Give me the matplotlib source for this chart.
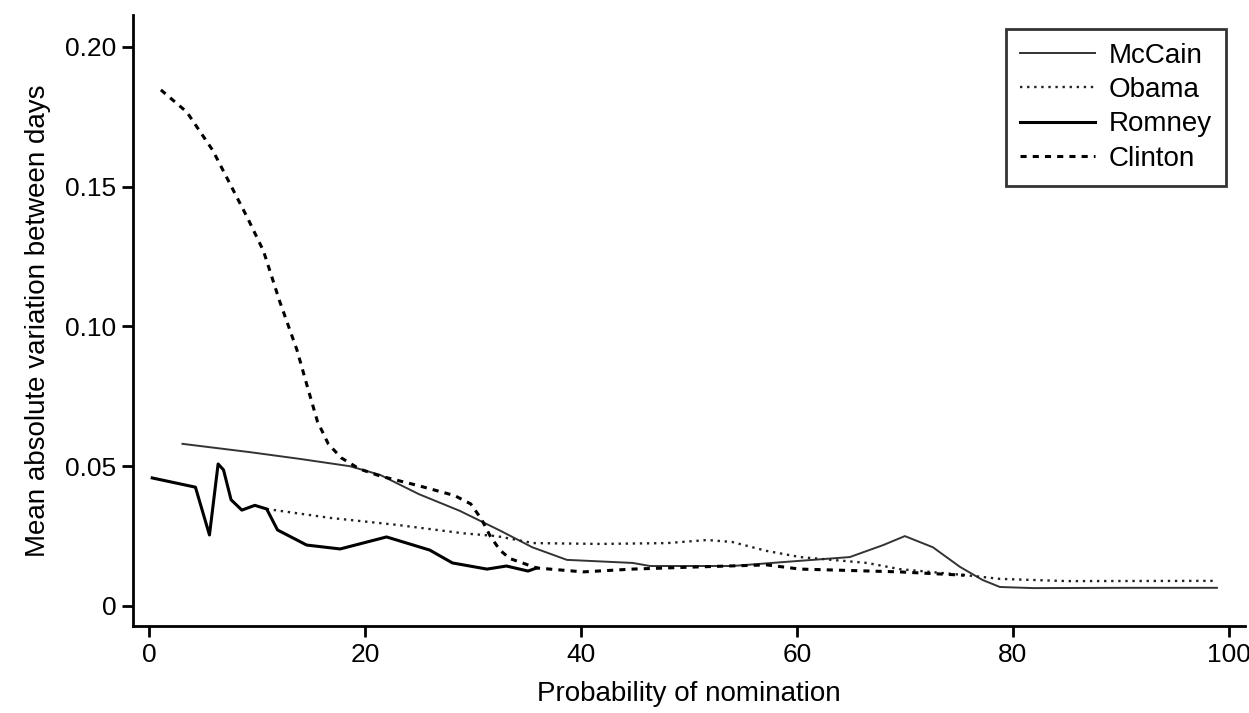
import matplotlib
matplotlib.use("Agg")
import matplotlib.pyplot as plt

plt.rcParams['font.family'] = ['Liberation Sans', 'DejaVu Sans']

mccain_x = [3.1, 9.4, 14.0, 18.6, 21.4, 25.0, 28.8, 32.5, 35.5, 38.7, 44.8, 46.4, 54.0, 58.7, 64.9, 68.0, 70.0, 72.6, 75.1, 77.2, 78.8, 81.9, 90.0, 98.9]
mccain_y = [0.058, 0.055, 0.0526, 0.050, 0.0469, 0.040, 0.034, 0.027, 0.021, 0.0165, 0.0154, 0.0143, 0.0143, 0.0157, 0.0175, 0.0218, 0.025, 0.021, 0.014, 0.0093, 0.0068, 0.0064, 0.0065, 0.0065]

obama_x = [10.9, 16.8, 23.0, 29.1, 32.2, 35.6, 41.8, 48.0, 51.7, 54.0, 57.2, 60.3, 66.5, 69.5, 75.7, 78.8, 85.0, 98.7]
obama_y = [0.0347, 0.0315, 0.029, 0.026, 0.025, 0.0225, 0.0222, 0.0225, 0.0236, 0.0229, 0.0197, 0.0175, 0.0154, 0.0132, 0.011, 0.0097, 0.0089, 0.009]

romney_x = [0.3, 4.3, 5.6, 6.4, 6.9, 7.6, 8.6, 9.8, 10.9, 11.9, 14.6, 17.7, 19.8, 22.0, 26.0, 28.1, 31.3, 33.1, 35.1, 35.9]
romney_y = [0.0458, 0.0425, 0.0254, 0.0508, 0.0487, 0.038, 0.0343, 0.036, 0.0347, 0.0272, 0.0218, 0.0204, 0.0225, 0.0247, 0.020, 0.0154, 0.0132, 0.0143, 0.0125, 0.0136]

clinton_x = [1.1, 3.5, 5.9, 7.5, 9.1, 10.6, 12.1, 13.7, 14.7, 15.6, 16.6, 17.8, 19.5, 21.4, 25.0, 28.3, 29.8, 30.8, 31.6, 32.5, 33.4, 35.9, 40.2, 44.8, 51.0, 57.2, 60.3, 69.5, 75.5]
clinton_y = [0.1846, 0.1767, 0.163, 0.151, 0.139, 0.127, 0.109, 0.0916, 0.0780, 0.0660, 0.0580, 0.0530, 0.0490, 0.0465, 0.0430, 0.0395, 0.0365, 0.031, 0.025, 0.020, 0.0170, 0.0136, 0.0122, 0.0132, 0.014, 0.0147, 0.0132, 0.0122, 0.011]

x_ticks = [0, 20, 40, 60, 80, 100]
y_ticks = [0, 0.05, 0.10, 0.15, 0.20]
y_ticklabels = ['0', '0.05', '0.10', '0.15', '0.20']

fig = plt.figure(figsize=(12.49, 7.13), dpi=100)
ax = fig.add_axes([0.1065, 0.122, 0.8903, 0.857])

ax.plot(mccain_x, mccain_y, color='#333333', lw=1.4, ls='-', label='McCain')
ax.plot(obama_x, obama_y, color='#222222', lw=1.7, ls=(0, (1, 2)), label='Obama')
ax.plot(romney_x, romney_y, color='black', lw=2.2, ls='-', label='Romney')
ax.plot(clinton_x, clinton_y, color='black', lw=2.2, ls=(0, (2, 2)), label='Clinton')

ax.set_xlim(-1.48, 101.5)
ax.set_ylim(-0.00716, 0.2114)
ax.set_xticks(x_ticks)
ax.set_yticks(y_ticks)
ax.set_yticklabels(y_ticklabels)
ax.spines['top'].set_visible(False)
ax.spines['right'].set_visible(False)
ax.spines['left'].set_linewidth(2)
ax.spines['bottom'].set_linewidth(2)
ax.tick_params(direction='out', length=8, width=2, labelsize=19, pad=4)
ax.set_xlabel('Probability of nomination', fontsize=20, labelpad=10)
ax.set_ylabel('Mean absolute variation between days', fontsize=20, labelpad=10)

leg = ax.legend(loc='upper right', bbox_to_anchor=(0.995, 1.0), fontsize=20,
                frameon=True, fancybox=False, edgecolor='black', handlelength=2.7,
                borderpad=0.5, labelspacing=0.3, handletextpad=0.5)
leg.get_frame().set_linewidth(2)

fig.savefig('out.png', dpi=100)
